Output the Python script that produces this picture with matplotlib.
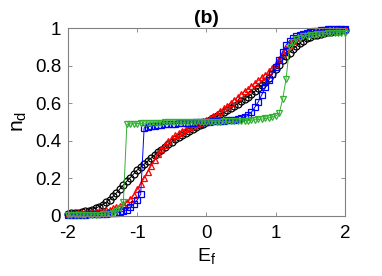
import numpy as np
import matplotlib
matplotlib.use("Agg")
import matplotlib.pyplot as plt

# grade de energia E_f
ef = np.linspace(-2.0, 2.0, 81)

nd_preto = [
    0.010, 0.012, 0.014, 0.016, 0.019, 0.022, 0.026, 0.032, 0.040, 0.048,
    0.058, 0.070, 0.085, 0.102, 0.121, 0.142, 0.163, 0.183, 0.203, 0.223,
    0.243, 0.259, 0.274, 0.290, 0.306, 0.322, 0.337, 0.352, 0.366, 0.380,
    0.394, 0.407, 0.419, 0.430, 0.441, 0.451, 0.461, 0.471, 0.481, 0.490,
    0.500,
    0.510, 0.520, 0.530, 0.540, 0.550, 0.561, 0.572, 0.584, 0.596, 0.609,
    0.621, 0.634, 0.648, 0.663, 0.678, 0.694, 0.712, 0.733, 0.756, 0.780,
    0.805, 0.829, 0.851, 0.870, 0.888, 0.905, 0.921, 0.934, 0.945, 0.954,
    0.961, 0.966, 0.971, 0.975, 0.978, 0.981, 0.984, 0.986, 0.988, 0.990,
]

nd_vermelho = [
    0.008, 0.009, 0.010, 0.011, 0.012, 0.013, 0.015, 0.017, 0.019, 0.022,
    0.025, 0.028, 0.032, 0.038, 0.045, 0.052, 0.060, 0.072, 0.088, 0.110,
    0.140, 0.170, 0.200, 0.232, 0.265, 0.297, 0.327, 0.353, 0.376, 0.396,
    0.413, 0.428, 0.441, 0.453, 0.463, 0.472, 0.480, 0.488, 0.496, 0.503,
    0.511,
    0.520, 0.530, 0.544, 0.558, 0.572, 0.587, 0.602, 0.617, 0.632, 0.647,
    0.662, 0.677, 0.692, 0.707, 0.722, 0.737, 0.752, 0.769, 0.788, 0.810,
    0.836, 0.862, 0.888, 0.910, 0.930, 0.946, 0.958, 0.967, 0.974, 0.979,
    0.983, 0.986, 0.989, 0.991, 0.993, 0.995, 0.996, 0.997, 0.998, 0.998,
]

nd_azul = [
    0.004, 0.004, 0.004, 0.005, 0.005, 0.005, 0.006, 0.006, 0.007, 0.008,
    0.009, 0.010, 0.011, 0.013, 0.015, 0.018, 0.022, 0.030, 0.045, 0.063,
    0.083, 0.115, 0.468, 0.474, 0.478, 0.480, 0.482, 0.484, 0.486, 0.488,
    0.489, 0.490, 0.492, 0.493, 0.494, 0.495, 0.496, 0.497, 0.498, 0.499,
    0.500,
    0.501, 0.502, 0.503, 0.505, 0.506, 0.508, 0.510, 0.512, 0.515, 0.519,
    0.525, 0.535, 0.552, 0.578, 0.608, 0.645, 0.685, 0.722, 0.757, 0.792,
    0.832, 0.875, 0.910, 0.933, 0.948, 0.958, 0.965, 0.971, 0.976, 0.980,
    0.983, 0.986, 0.989, 0.991, 0.993, 0.995, 0.996, 0.997, 0.998, 0.998,
]

nd_verde = [
    0.002, 0.002, 0.002, 0.002, 0.003, 0.003, 0.003, 0.004, 0.004, 0.005,
    0.006, 0.008, 0.010, 0.014, 0.022, 0.038, 0.074, 0.487, 0.489, 0.490,
    0.491, 0.492, 0.493, 0.494, 0.495, 0.495, 0.496, 0.496, 0.497, 0.497,
    0.497, 0.498, 0.498, 0.498, 0.499, 0.499, 0.499, 0.499, 0.500, 0.500,
    0.500,
    0.500, 0.501, 0.501, 0.501, 0.502, 0.502, 0.503, 0.503, 0.504, 0.505,
    0.506, 0.507, 0.509, 0.511, 0.513, 0.515, 0.518, 0.521, 0.525, 0.531,
    0.545, 0.620, 0.730, 0.900, 0.928, 0.942, 0.950, 0.956, 0.960, 0.963,
    0.966, 0.968, 0.970, 0.971, 0.972, 0.973, 0.974, 0.975, 0.975, 0.976,
]

xticks = [-2, -1, 0, 1, 2]
yticks = [0, 0.2, 0.4, 0.6, 0.8, 1]
ytick_rotulos = ["0", "0.2", "0.4", "0.6", "0.8", "1"]

plt.rcParams["font.family"] = ["Liberation Sans", "DejaVu Sans"]

fig = plt.figure(figsize=(3.82, 2.76), dpi=100)
ax = fig.add_axes([0.178, 0.219, 0.725, 0.679])

series = [
    (nd_preto, "k", "o"),
    (nd_vermelho, "r", "^"),
    (nd_azul, "b", "s"),
    (nd_verde, "#33b033", "v"),
]
for valores, cor, marcador in series:
    ax.plot(ef, valores, color=cor, marker=marcador, markersize=5,
            markerfacecolor="none", markeredgewidth=0.9, linewidth=0.7,
            clip_on=False)

ax.set_xlim(-2, 2)
ax.set_ylim(0, 1)
ax.set_xticks(xticks)
ax.set_xticklabels([str(t) for t in xticks])
ax.set_yticks(yticks)
ax.set_yticklabels(ytick_rotulos)

for lado in ax.spines.values():
    lado.set_color("#808080")
    lado.set_linewidth(0.8)
ax.tick_params(direction="in", length=3, width=0.6, color="#808080",
               top=True, right=True, labelsize=13.5)
ax.tick_params(axis="x", pad=7)
ax.tick_params(axis="y", pad=5)

ax.set_xlabel("E$_\\mathregular{f}$", fontsize=14, labelpad=3)
ax.set_ylabel("n$_\\mathregular{d}$", fontsize=15, labelpad=4)
ax.set_title("(b)", fontsize=14, fontweight="bold", pad=4)

fig.savefig("out.png", dpi=100)
